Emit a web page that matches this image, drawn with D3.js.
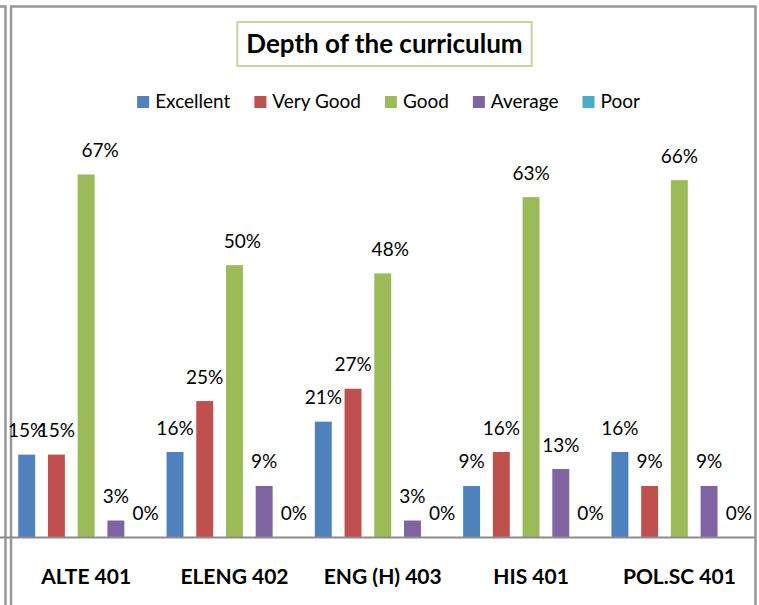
<!DOCTYPE html>
<html>
<head>
<meta charset="utf-8">
<script src="https://cdn.jsdelivr.net/npm/d3@7"></script>
<style>
  html, body { margin: 0; padding: 0; background: #fff; }
  svg { display: block; }
  text { font-family: Lato, "Open Sans", sans-serif; }
</style>
</head>
<body>
<div id="chart"></div>
<script>
// Chart data (percent of respondents)
const categories = ['ALTE 401', 'ELENG 402', 'ENG (H) 403', 'HIS 401', 'POL.SC 401'];
const seriesNames = ['Excellent', 'Very Good', 'Good', 'Average', 'Poor'];
const excellent = [15.15, 15.63, 21.21, 9.38, 15.63];
const veryGood = [15.15, 25.00, 27.27, 15.63, 9.38];
const good = [66.67, 50.00, 48.48, 62.50, 65.63];
const average = [3.03, 9.38, 3.03, 12.50, 9.38];
const poor = [0, 0, 0, 0, 0];
const titleText = 'Depth of the curriculum';

const seriesValues = [excellent, veryGood, good, average, poor];
const colors = ['#4f81bd', '#c0504d', '#9bbb59', '#8064a2', '#4bacc6'];

const width = 759, height = 605;
const baseY = 537;

const svg = d3.select('#chart')
  .append('svg')
  .attr('width', width)
  .attr('height', height);

svg.append('rect')
  .attr('width', width)
  .attr('height', height)
  .attr('fill', '#fff');

// frame lines
const frame = svg.append('g')
  .attr('fill', 'none')
  .attr('stroke', '#979797')
  .attr('stroke-width', 2.5);
frame.append('path').attr('d', `M0,6.5 H5.5 V${height}`);
frame.append('path').attr('d', `M11,${height} V6.5 H755.5 V${height}`);

// scales
const x = d3.scaleBand()
  .domain(categories)
  .range([12, 753.5]);

const xs = d3.scaleBand()
  .domain(seriesNames)
  .range([0, x.bandwidth()])
  .paddingInner(0.43)
  .paddingOuter(0.21);

const y = d3.scaleLinear()
  .domain([0, 80])
  .range([baseY, 102]);

// rows for drawing
const rows = [];
seriesNames.forEach((s, i) => {
  categories.forEach((c, j) => {
    rows.push({ series: s, cat: c, value: seriesValues[i][j], color: colors[i] });
  });
});

// bars
svg.append('g')
  .selectAll('rect')
  .data(rows)
  .join('rect')
  .attr('x', d => x(d.cat) + xs(d.series))
  .attr('y', d => y(d.value))
  .attr('width', xs.bandwidth())
  .attr('height', d => y(0) - y(d.value))
  .attr('fill', d => d.color);

// data labels (a few were dragged sideways in the original)
const labelNudge = { 'ALTE 401|Good': 14, 'ELENG 402|Good': 8, 'ENG (H) 403|Good': 7.5 };
svg.append('g')
  .selectAll('text')
  .data(rows)
  .join('text')
  .attr('x', d => x(d.cat) + xs(d.series) + xs.bandwidth() / 2 + (labelNudge[d.cat + '|' + d.series] || 0))
  .attr('y', d => y(d.value) - 17.5)
  .attr('text-anchor', 'middle')
  .attr('font-size', 19)
  .attr('fill', '#000')
  .text(d => Math.round(d.value) + '%');

// category axis
svg.append('line')
  .attr('x1', 0)
  .attr('x2', 755)
  .attr('y1', baseY + 0.5)
  .attr('y2', baseY + 0.5)
  .attr('stroke', '#8c8c8c')
  .attr('stroke-width', 2);

const xAxis = svg.append('g')
  .attr('transform', `translate(0,${baseY})`)
  .call(d3.axisBottom(x).tickSize(0).tickPadding(0));
xAxis.select('.domain').remove();
xAxis.selectAll('text')
  .attr('y', 47)
  .attr('dy', null)
  .attr('font-family', 'Lato, sans-serif')
  .attr('font-size', 21)
  .attr('font-weight', 'bold')
  .attr('fill', '#000');

// title with box
const titleG = svg.append('g');
const title = titleG.append('text')
  .attr('x', 384.5)
  .attr('y', 53)
  .attr('text-anchor', 'middle')
  .attr('font-size', 26)
  .attr('font-weight', 'bold')
  .attr('fill', '#000')
  .text(titleText);
const tb = title.node().getBBox();
titleG.insert('rect', 'text')
  .attr('x', tb.x - 9)
  .attr('y', 22)
  .attr('width', tb.width + 18)
  .attr('height', 44)
  .attr('fill', '#fff')
  .attr('stroke', '#c3d69b')
  .attr('stroke-width', 2);

// legend
const legend = svg.append('g');
let lx = 0;
seriesNames.forEach((s, i) => {
  const item = legend.append('g').attr('transform', `translate(${lx},0)`);
  item.append('rect')
    .attr('x', 0)
    .attr('y', 96)
    .attr('width', 12)
    .attr('height', 12)
    .attr('fill', colors[i]);
  const t = item.append('text')
    .attr('x', 18)
    .attr('y', 108)
    .attr('font-size', 19)
    .attr('fill', '#000')
    .text(s);
  lx += 18 + t.node().getComputedTextLength() + 24;
});
const legendWidth = lx - 24;
legend.attr('transform', `translate(${388.5 - legendWidth / 2},0)`);
</script>
</body>
</html>
